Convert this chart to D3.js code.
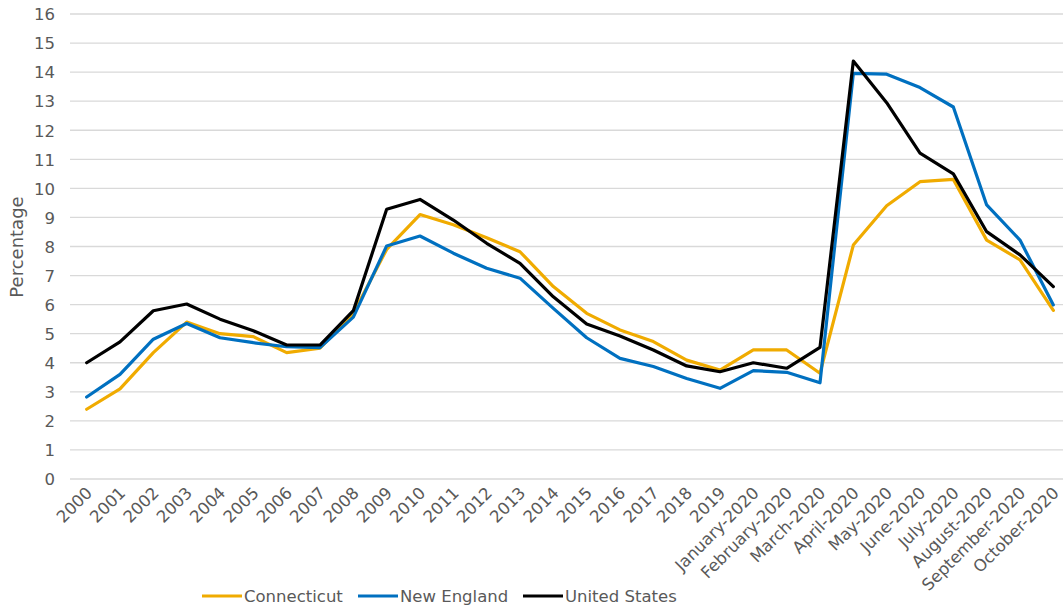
<!DOCTYPE html>
<html>
<head>
<meta charset="utf-8">
<script src="https://cdn.jsdelivr.net/npm/d3@7"></script>
<style>
  html, body { margin: 0; padding: 0; background: #fff; }
  svg { display: block; font-family: "DejaVu Sans", Verdana, sans-serif; }
</style>
</head>
<body>
<svg id="chart" width="1063" height="605"></svg>
<script>
const categories = ["2000","2001","2002","2003","2004","2005","2006","2007","2008","2009",
  "2010","2011","2012","2013","2014","2015","2016","2017","2018","2019",
  "January-2020","February-2020","March-2020","April-2020","May-2020","June-2020",
  "July-2020","August-2020","September-2020","October-2020"];

const connecticut = [2.4,3.1,4.35,5.4,5.0,4.9,4.35,4.5,5.7,7.9,
  9.1,8.75,8.3,7.82,6.62,5.7,5.13,4.73,4.09,3.75,
  4.44,4.44,3.64,8.05,9.4,10.23,10.31,8.22,7.54,5.8];

const newEngland = [2.82,3.6,4.81,5.35,4.86,4.69,4.55,4.52,5.57,8.02,
  8.36,7.77,7.25,6.91,5.87,4.86,4.15,3.87,3.46,3.12,
  3.73,3.67,3.31,13.96,13.93,13.47,12.8,9.43,8.22,5.99];

const unitedStates = [4.0,4.72,5.79,6.02,5.5,5.1,4.61,4.61,5.79,9.28,
  9.62,8.91,8.11,7.42,6.27,5.33,4.92,4.44,3.89,3.69,
  4.0,3.81,4.53,14.38,12.95,11.21,10.5,8.51,7.71,6.62];

const yTicks = [0,1,2,3,4,5,6,7,8,9,10,11,12,13,14,15,16];

const seriesNames = ["Connecticut","New England","United States"];
const seriesColors = ["#F0AB00","#0070C0","#000000"];
const seriesData = [connecticut, newEngland, unitedStates];

(function () {
const svg = d3.select("#chart");
const mLeft = 70, mRight = 1070, mTop = 14, mBottom = 479;
const fs = 16.5;

const x = d3.scalePoint().domain(categories).range([mLeft, mRight]).padding(0.5);
const y = d3.scaleLinear().domain([0,16]).range([mBottom, mTop]);

// gridlines
svg.append("g").selectAll("line").data(yTicks).join("line")
  .attr("x1", mLeft).attr("x2", 1063)
  .attr("y1", d => y(d)).attr("y2", d => y(d))
  .attr("stroke", "#d9d9d9").attr("stroke-width", 1.3);

// y axis labels
const yAxis = d3.axisLeft(y).tickValues(yTicks).tickSize(0).tickPadding(0);
const yg = svg.append("g").attr("transform", "translate(55,0)").call(yAxis);
yg.select(".domain").remove();
yg.selectAll("text").attr("font-size", fs).attr("fill", "#595959")
  .attr("font-family", "DejaVu Sans, Verdana, sans-serif").attr("dy", "0.35em");

// x axis labels
const xAxis = d3.axisBottom(x).tickSize(0).tickPadding(0);
const xg = svg.append("g").attr("transform", `translate(0,${mBottom})`).call(xAxis);
xg.select(".domain").remove();
xg.selectAll("text")
  .attr("font-size", fs).attr("fill", "#595959")
  .attr("font-family", "DejaVu Sans, Verdana, sans-serif")
  .attr("text-anchor", "end")
  .attr("dy", 0).attr("y", 0)
  .attr("transform", "translate(6,15) rotate(-45)");

// y title
svg.append("text")
  .attr("transform", "translate(23,247) rotate(-90)")
  .attr("text-anchor", "middle")
  .attr("font-size", 18).attr("fill", "#595959")
  .text("Percentage");

// lines
const line = d3.line().x((d,i) => x(categories[i])).y(d => y(d));
seriesData.forEach((s, k) => {
  svg.append("path").datum(s)
    .attr("d", line)
    .attr("fill", "none")
    .attr("stroke", seriesColors[k])
    .attr("stroke-width", 3.2)
    .attr("stroke-linejoin", "round")
    .attr("stroke-linecap", "round");
});

// legend
const legendX = [202, 358, 523];
const lg = svg.append("g");
seriesNames.forEach((n, k) => {
  lg.append("line")
    .attr("x1", legendX[k]).attr("x2", legendX[k] + 40)
    .attr("y1", 596).attr("y2", 596)
    .attr("stroke", seriesColors[k]).attr("stroke-width", 3.2);
  lg.append("text")
    .attr("x", legendX[k] + 42).attr("y", 596)
    .attr("dy", "0.35em")
    .attr("font-size", fs).attr("fill", "#595959")
    .text(n);
});
})();
</script>
</body>
</html>
